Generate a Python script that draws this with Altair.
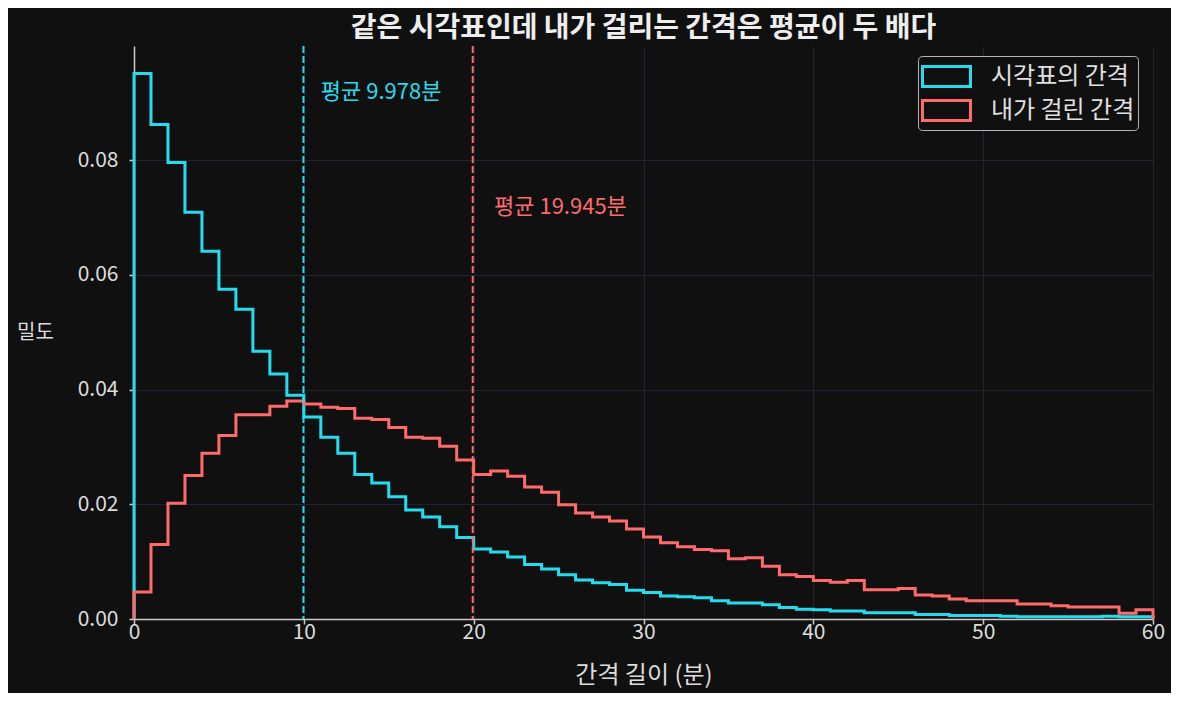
import altair as alt
import pandas as pd

# 1분 간격 구간별 밀도
cyan_vals = [0.0951, 0.0862, 0.0796, 0.0709, 0.0641, 0.0575, 0.0540, 0.0467, 0.0427, 0.0390,
             0.0352, 0.0317, 0.0289, 0.0252, 0.0237, 0.0213, 0.0190, 0.0178, 0.0161, 0.0142,
             0.0122, 0.0117, 0.0108, 0.0095, 0.0087, 0.0077, 0.0068, 0.0063, 0.0060, 0.0050,
             0.0046, 0.0040, 0.0039, 0.0037, 0.0032, 0.0028, 0.0028, 0.0025, 0.0020, 0.0017,
             0.0016, 0.0014, 0.0014, 0.0011, 0.0011, 0.0011, 0.0008, 0.0008, 0.0006, 0.0006,
             0.0006, 0.0005, 0.0004, 0.0004, 0.0004, 0.0004, 0.0004, 0.0005, 0.0004, 0.0004]
red_vals = [0.0047, 0.0130, 0.0202, 0.0250, 0.0289, 0.0320, 0.0356, 0.0356, 0.0371, 0.0380,
            0.0375, 0.0369, 0.0367, 0.0350, 0.0348, 0.0334, 0.0317, 0.0315, 0.0301, 0.0277,
            0.0252, 0.0258, 0.0249, 0.0230, 0.0221, 0.0199, 0.0185, 0.0178, 0.0171, 0.0157,
            0.0143, 0.0133, 0.0126, 0.0121, 0.0119, 0.0105, 0.0107, 0.0092, 0.0077, 0.0074,
            0.0067, 0.0064, 0.0067, 0.0051, 0.0051, 0.0053, 0.0042, 0.0040, 0.0035, 0.0032,
            0.0032, 0.0032, 0.0026, 0.0026, 0.0023, 0.0021, 0.0021, 0.0021, 0.0010, 0.0016]
series_names = ["시각표의 간격", "내가 걸린 간격"]
colors = ["#25dcef", "#ff6b6b"]
means = [9.978, 19.945]
label_x = [11.0, 21.2]
label_y = [0.0918, 0.0718]
labels = ["평균 9.978분", "평균 19.945분"]

FONT = "Noto Sans CJK KR"


def step_frame(name, vals):
    # matplotlib histtype='step' 처럼 0에서 올라가 60에서 내려오는 외곽선
    rows = [{"x": 0, "y": 0.0, "i": 0, "s": name}]
    for k, v in enumerate(vals):
        rows.append({"x": k, "y": v, "i": k + 1, "s": name})
    rows.append({"x": 60, "y": vals[-1], "i": len(vals) + 1, "s": name})
    rows.append({"x": 60, "y": 0.0, "i": len(vals) + 2, "s": name})
    return pd.DataFrame(rows)


x_scale = alt.Scale(domain=[0, 60], nice=False, zero=False)
y_scale = alt.Scale(domain=[0, 0.0999], nice=False)
color = alt.Color("s:N", scale=alt.Scale(domain=series_names, range=colors),
                  legend=alt.Legend(title=None, orient="none", legendX=784, legendY=10))

x_enc = alt.X("x:Q", scale=x_scale,
              axis=alt.Axis(title="간격 길이 (분)", values=[0, 10, 20, 30, 40, 50, 60],
                            labelFlush=False, labelPadding=-3, titlePadding=21))
y_enc = alt.Y("y:Q", scale=y_scale,
              axis=alt.Axis(title="밀도", values=[0, 0.02, 0.04, 0.06, 0.08], format=".2f",
                            titleAngle=0, titleAlign="center", titleBaseline="middle",
                            titleX=-99, titleY=286, titleFontSize=20, labelPadding=11))


def step_line(name, vals):
    return alt.Chart(step_frame(name, vals)).mark_line(
        interpolate="step-after", strokeWidth=3, strokeJoin="miter"
    ).encode(x=x_enc, y=y_enc, color=color, order="i:Q")


mean_df = pd.DataFrame({"m": means, "c": colors})
rules = alt.Chart(mean_df).mark_rule(strokeWidth=2, strokeDash=[7, 3]).encode(
    x=alt.X("m:Q", scale=x_scale), color=alt.Color("c:N", scale=None)
)

text_df = pd.DataFrame({"x": label_x, "y": label_y, "t": labels, "c": colors})
texts = alt.Chart(text_df).mark_text(
    align="left", baseline="middle", fontSize=22, font=FONT
).encode(
    x=alt.X("x:Q", scale=x_scale), y=alt.Y("y:Q", scale=y_scale),
    text="t:N", color=alt.Color("c:N", scale=None)
)

chart = alt.layer(
    step_line(series_names[0], cyan_vals),
    step_line(series_names[1], red_vals),
    rules,
    texts,
).properties(
    width=1019,
    height=573,
    title=alt.TitleParams("같은 시각표인데 내가 걸리는 간격은 평균이 두 배다",
                          fontSize=28, fontWeight="bold", color="#eeeeee", font=FONT,
                          anchor="middle", offset=2),
    autosize=alt.AutoSizeParams(type="none"),
    padding={"left": 126, "top": 38, "right": 18, "bottom": 74},
    background="#101010",
).configure_view(
    stroke=None
).configure_axis(
    labelFont=FONT, titleFont=FONT, labelFontSize=21, titleFontSize=24,
    labelColor="#dddddd", titleColor="#dddddd", titleFontWeight="normal",
    domainColor="#cccccc", tickColor="#cccccc", domainWidth=1.5, tickWidth=1.5, tickSize=5,
    gridColor="#232230", gridWidth=1,
).configure_legend(
    fillColor="#101010", strokeColor="#b5b5b5",
    cornerRadius=4, padding=3, labelFont=FONT, labelFontSize=24, labelColor="#e0e0e0",
    symbolType="M-1,-0.625H2V0.625H-1Z", symbolSize=1024, symbolStrokeWidth=3,
    symbolFillColor="transparent", rowPadding=-4, labelOffset=35,
)

chart.save("out.html", embed_options={"renderer": "svg", "actions": False})
